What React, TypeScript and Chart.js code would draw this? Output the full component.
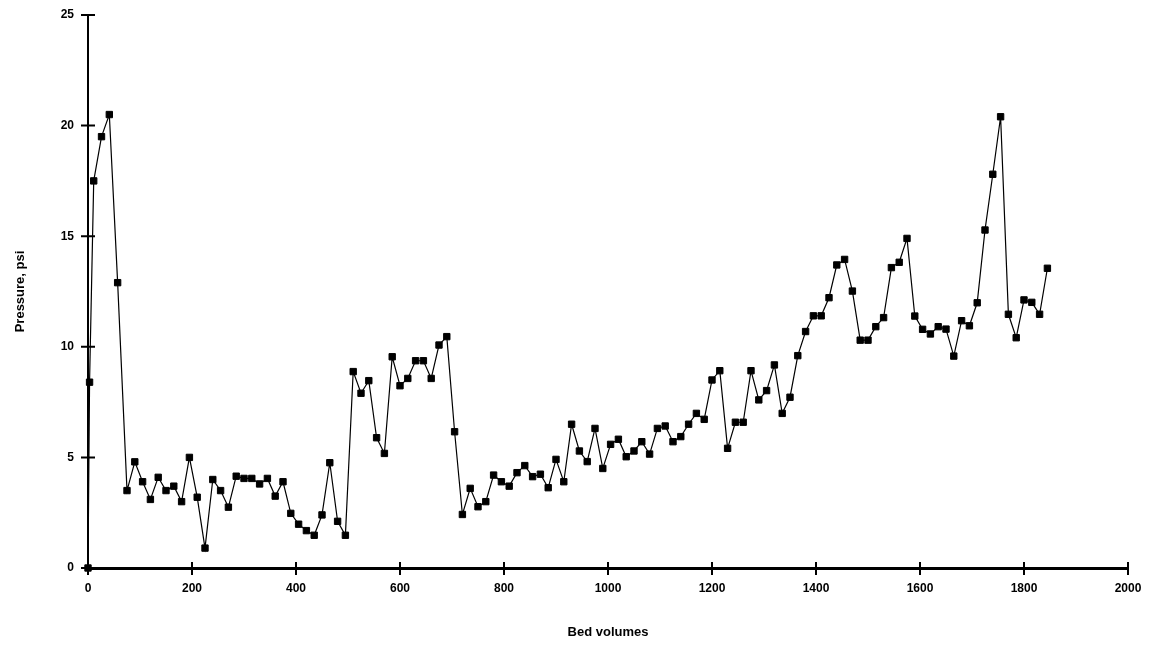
import React, { useEffect, useRef } from "react";
import { Chart, registerables } from "chart.js";

Chart.register(...registerables);

const bedVolumes = [
  0, 3, 11, 26, 41, 57, 75, 90, 105, 120, 135, 150, 165, 180, 195, 210, 225, 240, 255, 270,
  285, 300, 315, 330, 345, 360, 375, 390, 405, 420, 435, 450, 465, 480, 495, 510, 525, 540,
  555, 570, 585, 600, 615, 630, 645, 660, 675, 690, 705, 720, 735, 750, 765, 780, 795, 810,
  825, 840, 855, 870, 885, 900, 915, 930, 945, 960, 975, 990, 1005, 1020, 1035, 1050, 1065,
  1080, 1095, 1110, 1125, 1140, 1155, 1170, 1185, 1200, 1215, 1230, 1245, 1260, 1275, 1290,
  1305, 1320, 1335, 1350, 1365, 1380, 1395, 1410, 1425, 1440, 1455, 1470, 1485, 1500, 1515,
  1530, 1545, 1560, 1575, 1590, 1605, 1620, 1635, 1650, 1665, 1680, 1695, 1710, 1725, 1740,
  1755, 1770, 1785, 1800, 1815, 1830, 1845,
];

const pressure = [
  0, 8.4, 17.5, 19.5, 20.5, 12.9, 3.5, 4.8, 3.9, 3.1, 4.1, 3.5, 3.7, 3.0, 5.0, 3.2, 0.9, 4.0,
  3.5, 2.75, 4.15, 4.05, 4.05, 3.8, 4.05, 3.25, 3.9, 2.47, 1.98, 1.69, 1.48, 2.4, 4.76, 2.11,
  1.48, 8.88, 7.9, 8.47, 5.89, 5.18, 9.55, 8.24, 8.57, 9.37, 9.37, 8.57, 10.08, 10.46, 6.16,
  2.42, 3.6, 2.77, 3.0, 4.2, 3.9, 3.7, 4.31, 4.63, 4.13, 4.24, 3.63, 4.91, 3.9, 6.5, 5.29,
  4.81, 6.31, 4.5, 5.59, 5.82, 5.03, 5.29, 5.71, 5.15, 6.31, 6.42, 5.71, 5.94, 6.5, 6.99,
  6.72, 8.5, 8.92, 5.41, 6.59, 6.59, 8.92, 7.6, 8.02, 9.18, 6.99, 7.72, 9.6, 10.69, 11.4,
  11.4, 12.22, 13.7, 13.95, 12.52, 10.3, 10.3, 10.91, 11.32, 13.58, 13.82, 14.9, 11.39,
  10.79, 10.58, 10.91, 10.8, 9.58, 11.18, 10.95, 11.99, 15.28, 17.8, 20.4, 11.47, 10.41,
  12.12, 12.01, 11.47, 13.55,
];

const xTickValues = [0, 200, 400, 600, 800, 1000, 1200, 1400, 1600, 1800, 2000];
const yTickValues = [0, 5, 10, 15, 20, 25];

const crossTicks = {
  id: "crossTicks",
  afterDraw(chart: any) {
    const ctx = chart.ctx;
    const xs = chart.scales.x;
    const ys = chart.scales.y;
    const axisX = xs.getPixelForValue(0);
    const axisY = ys.getPixelForValue(0);
    ctx.save();
    ctx.strokeStyle = "#000";
    ctx.lineWidth = 2;
    ctx.beginPath();
    yTickValues.forEach((v) => {
      const py = ys.getPixelForValue(v);
      ctx.moveTo(axisX - 7, py);
      ctx.lineTo(axisX + 7, py);
    });
    xTickValues.forEach((v) => {
      const px = xs.getPixelForValue(v);
      ctx.moveTo(px, axisY - 6);
      ctx.lineTo(px, axisY + 7);
    });
    ctx.stroke();
    ctx.restore();
  },
};

export default function App() {
  const ref = useRef<HTMLCanvasElement | null>(null);

  useEffect(() => {
    if (!ref.current) return;
    const data = bedVolumes.map((x, i) => ({ x, y: pressure[i] }));
    const tickFont = { family: "'Liberation Sans', Arial, sans-serif", size: 12, weight: "bold" as const };
    const titleFont = { family: "'Liberation Sans', Arial, sans-serif", size: 13, weight: "bold" as const };
    const chart = new Chart(ref.current, {
      type: "line",
      data: {
        datasets: [
          {
            data,
            borderColor: "#000",
            backgroundColor: "#000",
            borderWidth: 1.2,
            pointStyle: "rect",
            pointRadius: 4.5,
            pointBorderWidth: 1,
            pointBorderColor: "#000",
            pointBackgroundColor: "#000",
            tension: 0,
            clip: false as any,
          },
        ],
      },
      options: {
        animation: false,
        responsive: false,
        maintainAspectRatio: false,
        layout: { padding: { top: 15, right: 30, left: 0, bottom: 0 } },
        plugins: { legend: { display: false }, tooltip: { enabled: false } },
        scales: {
          x: {
            type: "linear",
            min: 0,
            max: 2000,
            afterFit: (s: any) => {
              s.height = 83;
            },
            afterBuildTicks: (s: any) => {
              s.ticks = xTickValues.map((v) => ({ value: v }));
            },
            grid: { display: false, drawTicks: false },
            border: { display: true, color: "#000", width: 3 },
            ticks: {
              color: "#000",
              font: tickFont,
              padding: 13,
              maxRotation: 0,
              callback: (v: any) => String(v),
            },
            title: {
              display: true,
              text: "Bed volumes",
              color: "#000",
              font: titleFont,
              padding: { top: 0, bottom: 11 },
            },
          },
          y: {
            type: "linear",
            min: 0,
            max: 25,
            afterFit: (s: any) => {
              s.width = 88;
              s.paddingTop = 0;
              s.paddingBottom = 0;
            },
            afterBuildTicks: (s: any) => {
              s.ticks = yTickValues.map((v) => ({ value: v }));
            },
            grid: { display: false, drawTicks: false },
            border: { display: true, color: "#000", width: 2 },
            ticks: { color: "#000", font: tickFont, padding: 14, callback: (v: any) => String(v) },
            title: {
              display: true,
              text: "Pressure, psi",
              color: "#000",
              font: titleFont,
              padding: { top: 13, bottom: 0 },
            },
          },
        },
      },
      plugins: [crossTicks],
    });
    return () => chart.destroy();
  }, []);

  return (
    <div style={{ position: "fixed", left: 0, top: 0, width: 1158, height: 651, background: "#fff" }}>
      <canvas ref={ref} width={1158} height={651} style={{ width: 1158, height: 651 }} />
    </div>
  );
}
